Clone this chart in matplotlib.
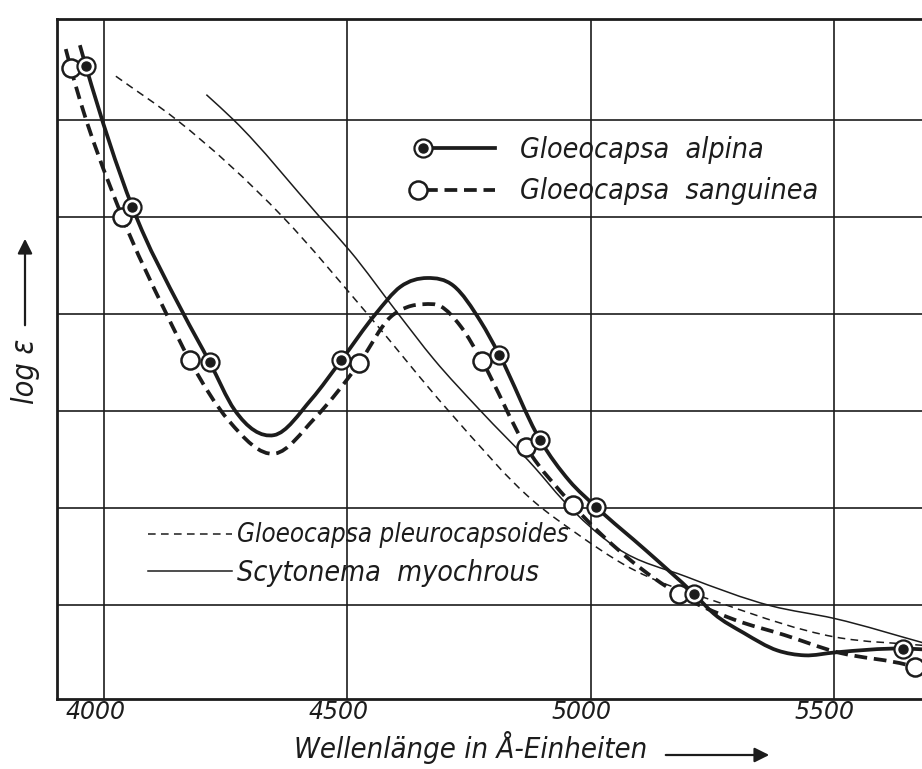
import numpy as np
import matplotlib
matplotlib.use("Agg")
import matplotlib.pyplot as plt
from matplotlib.path import Path
from matplotlib.patches import PathPatch, FancyArrowPatch
from matplotlib.lines import Line2D
import matplotlib.transforms as mtransforms

INK = "#1c1c1c"

# ---------------- data ----------------
wavelength_ticks = [4000, 4500, 5000, 5500]
tick_labels = ["4000", "4500", "5000", "5500"]

# Gloeocapsa alpina (solid, filled markers)
alpina_curve_x = [3950, 3962, 4058, 4161, 4217, 4268, 4349, 4426, 4487, 4558, 4609,
                  4664, 4718, 4774, 4812, 4896, 4956, 5011, 5114, 5212, 5253, 5315,
                  5384, 5440, 5502, 5641, 5690]
alpina_curve_y = [6.77, 6.56, 5.10, 4.02, 3.50, 3.01, 2.75, 3.12, 3.52, 4.00, 4.28,
                  4.37, 4.29, 3.92, 3.58, 2.70, 2.28, 2.01, 1.56, 1.115, 0.91, 0.71,
                  0.53, 0.48, 0.51, 0.55, 0.54]
alpina_pts_x = [3962, 4058, 4217, 4487, 4812, 4896, 5011, 5212, 5641]
alpina_pts_y = [6.56, 5.10, 3.50, 3.52, 3.58, 2.70, 2.01, 1.115, 0.55]

# Gloeocapsa sanguinea (dashed, open markers)
sanguinea_curve_x = [3921, 3931, 4037, 4126, 4176, 4256, 4351, 4432, 4524, 4589, 4623,
                     4657, 4691, 4733, 4777, 4867, 4963, 5082, 5181, 5294, 5398, 5501,
                     5666, 5690]
sanguinea_curve_y = [6.73, 6.54, 5.00, 4.02, 3.52, 2.90, 2.56, 2.92, 3.49, 3.97, 4.07,
                     4.10, 4.08, 3.87, 3.51, 2.63, 2.03, 1.46, 1.11, 0.85, 0.69, 0.52,
                     0.36, 0.32]
sanguinea_pts_x = [3931, 4037, 4176, 4524, 4777, 4867, 4963, 5181, 5666]
sanguinea_pts_y = [6.54, 5.00, 3.52, 3.49, 3.51, 2.63, 2.03, 1.11, 0.36]

# Gloeocapsa pleurocapsoides (thin dashed)
pleuro_x = [4024, 4149, 4367, 4541, 4708, 4887, 4970, 5067, 5278, 5501, 5690]
pleuro_y = [6.45, 6.00, 5.00, 4.00, 3.00, 2.05, 1.74, 1.42, 1.00, 0.67, 0.58]

# Scytonema myochrous (thin solid)
scyto_x = [4210, 4266, 4443, 4505, 4603, 4678, 4770, 4886, 4943, 5053, 5197, 5371,
           5501, 5690]
scyto_y = [6.26, 6.00, 5.00, 4.65, 4.01, 3.53, 3.02, 2.41, 2.08, 1.59, 1.29, 0.99,
           0.86, 0.60]


def smooth_path(xs, ys):
    """Smooth C1 cubic (Hermite -> Bezier) path through the read points."""
    x = np.asarray(xs, float)
    y = np.asarray(ys, float)
    h = np.diff(x)
    d = np.diff(y) / h
    m = np.empty_like(x)
    m[0], m[-1] = d[0], d[-1]
    m[1:-1] = (h[:-1] * d[1:] + h[1:] * d[:-1]) / (h[:-1] + h[1:])
    verts = [(x[0], y[0])]
    codes = [Path.MOVETO]
    for i in range(len(h)):
        verts += [(x[i] + h[i] / 3, y[i] + m[i] * h[i] / 3),
                  (x[i + 1] - h[i] / 3, y[i + 1] - m[i + 1] * h[i] / 3),
                  (x[i + 1], y[i + 1])]
        codes += [Path.CURVE4] * 3
    return Path(verts, codes)


fig = plt.figure(figsize=(9.22, 7.69), dpi=100)
fig.patch.set_facecolor("white")
ax = fig.add_axes([57 / 922, 1 - 699 / 769, 1 - 57 / 922, (699 - 19) / 769])
ax.set_xlim(3903, 5681)
ax.set_ylim(0.03, 7.04)

ax.set_xticks(wavelength_ticks)
ax.set_xticklabels(tick_labels, fontsize=17, fontstyle="italic", color=INK)
ax.set_yticks([1, 2, 3, 4, 5, 6])
ax.set_yticklabels([])
ax.tick_params(length=0, pad=1)
ax.grid(True, color=INK, lw=1.2, zorder=0)
ax.set_axisbelow(True)
for s in ["left", "top", "bottom"]:
    ax.spines[s].set_linewidth(2.0)
    ax.spines[s].set_color(INK)
ax.spines["right"].set_visible(False)

offset = mtransforms.ScaledTranslation(-9 / 100, 0, fig.dpi_scale_trans)
for lab in ax.get_xticklabels():
    lab.set_transform(lab.get_transform() + offset)

# curves
ax.add_patch(PathPatch(smooth_path(pleuro_x, pleuro_y), fill=False, ec=INK, lw=1.1,
                       ls=(0, (5, 3.5)), zorder=2))
ax.add_patch(PathPatch(smooth_path(scyto_x, scyto_y), fill=False, ec=INK, lw=1.1,
                       zorder=2))
ax.add_patch(PathPatch(smooth_path(sanguinea_curve_x, sanguinea_curve_y), fill=False,
                       ec=INK, lw=2.7, ls=(0, (3.4, 1.8)), zorder=3))
ax.add_patch(PathPatch(smooth_path(alpina_curve_x, alpina_curve_y), fill=False,
                       ec=INK, lw=2.7, zorder=3))

# markers
ax.plot(sanguinea_pts_x, sanguinea_pts_y, ls="none", marker="o", ms=13, mfc="white",
        mec=INK, mew=1.8, zorder=4)
ax.plot(alpina_pts_x, alpina_pts_y, ls="none", marker="o", ms=13, mfc="white",
        mec=INK, mew=1.6, zorder=4)
ax.plot(alpina_pts_x, alpina_pts_y, ls="none", marker="o", ms=6.5, mfc=INK,
        mec=INK, zorder=5)

# legends (drawn as in the original figure)
tf = ax.transAxes
font_kw = dict(fontsize=20.5, fontstyle="italic", fontstretch="condensed", color=INK,
               va="center", ha="left", transform=tf)
ax.add_line(Line2D([0.423, 0.506], [0.810, 0.810], transform=tf, color=INK, lw=2.7))
ax.add_line(Line2D([0.423], [0.810], transform=tf, ls="none", marker="o", ms=13,
                   mfc="white", mec=INK, mew=1.6))
ax.add_line(Line2D([0.423], [0.810], transform=tf, ls="none", marker="o", ms=6.5,
                   mfc=INK, mec=INK))
ax.text(0.535, 0.808, "Gloeocapsa  alpina", **font_kw)
ax.add_line(Line2D([0.425, 0.506], [0.749, 0.749], transform=tf, color=INK, lw=2.7,
                   ls=(0, (3.4, 1.8))))
ax.add_line(Line2D([0.417], [0.749], transform=tf, ls="none", marker="o", ms=13,
                   mfc="white", mec=INK, mew=1.8))
ax.text(0.535, 0.747, "Gloeocapsa  sanguinea", **font_kw)

ax.add_line(Line2D([0.105, 0.202], [0.243, 0.243], transform=tf, color=INK, lw=1.1,
                   ls=(0, (5, 3.5))))
ax.text(0.208, 0.241, "Gloeocapsa pleurocapsoides",
        **{**font_kw, "fontsize": 18.5})
ax.add_line(Line2D([0.105, 0.202], [0.188, 0.188], transform=tf, color=INK, lw=1.1))
ax.text(0.208, 0.186, "Scytonema  myochrous", **font_kw)

# axis labels with arrows
ax.set_xlabel("Wellenlänge in Å-Einheiten", fontsize=21, fontstyle="italic",
              fontstretch="condensed", color=INK)
ax.xaxis.set_label_coords((471 - 57) / 865, (699 - 747) / 680)
ax.xaxis.label.set_verticalalignment("center")
ax.set_ylabel("log ε", fontsize=22, fontstyle="italic", fontstretch="condensed",
              color=INK)
ax.yaxis.set_label_coords((25 - 57) / 865, (699 - 371) / 680)
ax.yaxis.label.set_verticalalignment("center")

fig.patches.append(FancyArrowPatch(
    (663 / 922, 1 - 755 / 769), (772 / 922, 1 - 755 / 769), transform=fig.transFigure,
    arrowstyle="-|>", mutation_scale=22, lw=1.6, color=INK))
fig.patches.append(FancyArrowPatch(
    (25 / 922, 1 - 328 / 769), (25 / 922, 1 - 236 / 769), transform=fig.transFigure,
    arrowstyle="-|>", mutation_scale=22, lw=1.6, color=INK))

fig.savefig("out.png", dpi=100, facecolor="white")
